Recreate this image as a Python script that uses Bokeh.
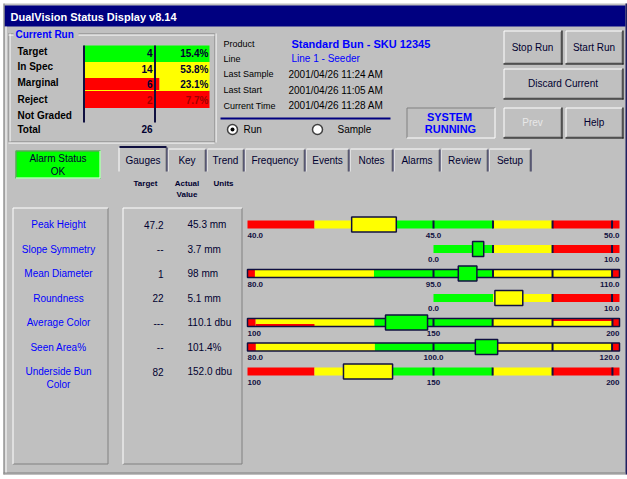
from bokeh.plotting import figure
from bokeh.models import Range1d, ColumnDataSource
from bokeh.core.properties import value
from bokeh.embed import file_html
from bokeh.resources import INLINE

# ---------------- data ----------------
window_title = "DualVision Status Display v8.14"
run_title = "Current Run"
run_categories = ["Target", "In Spec", "Marginal", "Reject", "Not Graded"]
run_counts = [4, 14, 6, 2, None]
total_label = "Total"

info_labels = ["Product", "Line", "Last Sample", "Last Start", "Current Time"]
info_values = ["Standard Bun - SKU 12345", "Line 1 - Seeder",
               "2001/04/26 11:24 AM", "2001/04/26 11:05 AM", "2001/04/26 11:28 AM"]
mode_options = ["Run", "Sample"]
system_state = ["SYSTEM", "RUNNING"]
button_labels = ["Stop Run", "Start Run", "Discard Current", "Prev", "Help"]
alarm_state = ["Alarm Status", "OK"]
tab_labels = ["Gauges", "Key", "Trend", "Frequency", "Events", "Notes", "Alarms", "Review", "Setup"]
column_headers = ["Target", "Actual\nValue", "Units"]

gauge_names = ["Peak Height", "Slope Symmetry", "Mean Diameter", "Roundness",
               "Average Color", "Seen Area%", "Underside Bun\nColor"]
gauge_targets = ["47.2", "--", "1", "22", "---", "--", "82"]
gauge_values = ["45.3 mm", "3.7 mm", "98 mm", "5.1 mm", "110.1 dbu", "101.4%", "152.0 dbu"]
gauge_lo = [40, -10, 80, -10, 100, 80, 100]
gauge_hi = [50, 10, 110, 10, 200, 120, 200]
gauge_scale_labels = [("40.0", "45.0", "50.0"), (None, "0.0", "10.0"), ("80.0", "95.0", "110.0"),
                      (None, "0.0", "10.0"), ("100", "150", "200"), ("80.0", "100.0", "120.0"),
                      ("100", "150", "200")]
gauge_edges = [[40, 41.8, 43.4, 46.6, 48.2, 50],
               [0, 3.2, 6.4, 10],
               [80, 80.6, 90.2, 99.8, 109.4, 110],
               [0, 3.2, 6.4, 10],
               [100, 102.2, 134.1, 165.9, 198.1, 200],
               [80, 80.9, 93.7, 106.4, 119.2, 120],
               [100, 118, 134, 165.9, 182, 200]]
gauge_zone_status = [["reject", "marginal", "good", "marginal", "reject"],
                     ["good", "marginal", "reject"],
                     ["reject", "marginal", "good", "marginal", "reject"],
                     ["good", "marginal", "reject"],
                     ["reject", "marginal", "good", "marginal", "reject"],
                     ["reject", "marginal", "good", "marginal", "reject"],
                     ["reject", "marginal", "good", "marginal", "reject"]]
gauge_ticks = [[45, 46.6, 48.2, 49.8], [3.2, 6.4, 9.6], [95, 99.8, 104.6, 109.4], [6.4, 9.6],
               [150, 165.9, 182, 198.1], [100, 106.4, 112.8, 119.2], [150, 165.9, 182, 198.1]]
gauge_box_lo = [42.8, 2.1, 97.0, 3.3, 137.1, 104.5, 125.8]
gauge_box_hi = [44.0, 2.7, 98.5, 4.8, 148.4, 106.9, 139.0]
gauge_box_status = ["marginal", "good", "good", "marginal", "good", "good", "marginal"]
gauge_outlined = [False, False, True, False, True, True, False]
# thin sub-zone strips (gauge index, start, end, side)
strip_gauge = [4, 4]
strip_start = [102.2, 182.0]
strip_end = [118.0, 198.1]
strip_side = ["bottom", "top"]

# ---------------- style ----------------
FONT = "Liberation Sans"
BG = "#C0C0C0"
NAVY = "#000080"
INK = "#000030"
BLUE = "#0000FF"
WHITE = "#FFFFFF"
SHADOW = "#808080"
EDGE = "#101040"
STATUS = {"good": "#00FF00", "marginal": "#FFFF00", "reject": "#FF0000"}

W, H = 627, 479
p = figure(width=W, height=H, x_range=Range1d(0, W), y_range=Range1d(H, 0),
           output_backend="svg", toolbar_location=None, min_border=0,
           x_axis_location=None, y_axis_location=None)
p.grid.visible = False
p.outline_line_color = None
p.background_fill_color = WHITE
p.border_fill_color = WHITE
G0, G1 = 247.0, 619.0
p.extra_x_ranges = {"gauge": Range1d(-G0 / (G1 - G0), (W - G0) / (G1 - G0))}

segs = {}
def line(x0, y0, x1, y1, color, width=1):
    s = segs.setdefault((color, width), {"x0": [], "y0": [], "x1": [], "y1": []})
    s["x0"].append(x0); s["y0"].append(y0); s["x1"].append(x1); s["y1"].append(y1)

def bevel(x0, y0, x1, y1, raised=True, outer=False):
    lt, dk = (WHITE, SHADOW) if raised else (SHADOW, WHITE)
    h = 0.5
    line(x0 + h, y0 + h, x1 - h, y0 + h, lt)
    line(x0 + h, y0 + h, x0 + h, y1 - h, lt)
    line(x0 + h, y1 - h, x1 - h, y1 - h, dk)
    line(x1 - h, y0 + h, x1 - h, y1 - h, dk)
    if outer:
        line(x0, y1 + 0.5, x1 + 1, y1 + 0.5, "#000000")
        line(x1 + 0.5, y0, x1 + 0.5, y1 + 1, "#000000")

def etched_h(x0, x1, y):
    line(x0, y + 0.5, x1, y + 0.5, SHADOW)
    line(x0, y + 1.5, x1, y + 1.5, WHITE)

def etched_v(x, y0, y1):
    line(x + 0.5, y0, x + 0.5, y1, SHADOW)
    line(x + 1.5, y0, x + 1.5, y1, WHITE)

texts = {}
def label(x, y, s, size=10, color=INK, align="left", bold=False, rng="default"):
    d = texts.setdefault((size, color, align, bold, rng), {"x": [], "y": [], "text": []})
    d["x"].append(x); d["y"].append(y); d["text"].append(s)

def box(x0, y0, x1, y1, color):
    p.quad(left=x0, right=x1, top=y0, bottom=y1, fill_color=color, line_color=None)

# ---- window ----
box(3, 3, 627, 474, BG)
box(4, 5, 625, 26, NAVY)
box(625, 3, 627, 474, "#202060")
line(3.5, 3, 3.5, 474, SHADOW)
line(5.5, 26, 5.5, 472, WHITE)
line(3, 472.5, 625, 472.5, SHADOW)
line(3, 473.5, 625, 473.5, "#A0A0A0")
label(10, 16, window_title, size=11, color=WHITE, bold=True)

# ---- current run group ----
gx0, gx1, gy0, gy1 = 8, 214, 33, 141
etched_h(gx0, 13, gy0); etched_h(78, gx1, gy0)
etched_h(gx0, gx1, gy1)
etched_v(gx0, gy0, gy1); etched_v(gx1, gy0, gy1 + 1)
label(15, gy0 + 0.5, run_title, size=10, color=BLUE, bold=True)

cell_colors = ["#00FF00", "#FFFF00", "#FF0000", "#FF0000"]
row_tops = [45, 61.5, 77.5, 90.5]
row_bots = [61.5, 77.5, 89.5, 107.5]
tx0, tmid, tx1 = 83, 154, 209
for i in range(4):
    if run_categories[i] == "Marginal":
        box(tx0, row_tops[i], 159, row_bots[i], cell_colors[i])
        box(159, row_tops[i], tx1, row_bots[i] + 1, "#FFFF00")
        box(tx0, row_bots[i], 159, row_bots[i] + 1.5, "#FFFF00")
    else:
        box(tx0, row_tops[i], tx1, row_bots[i], cell_colors[i])
line(tx0 + 0.5, 45, tx0 + 0.5, 122, EDGE, 2)
line(tmid + 0.5, 45, tmid + 0.5, 122, EDGE, 2)

total = sum(c for c in run_counts if c is not None)
label_y = [50.5, 66, 81.5, 98.5, 114.5]
count_y = [52.5, 68.5, 83.5, 99.5]
for i, cat in enumerate(run_categories):
    label(17, label_y[i], cat, size=10, color="#000000", bold=True)
    c = run_counts[i]
    if c is not None:
        col = "#A00000" if cat == "Reject" else INK
        label(152, count_y[i], str(c), size=10, color=col, align="right", bold=True)
        label(208, count_y[i], f"{c / total * 100:.1f}%", size=10, color=col, align="right", bold=True)
label(17, 128.5, total_label, size=10, color="#000000", bold=True)
label(152, 128.5, str(total), size=10, color=INK, align="right", bold=True)

# ---- product info ----
info_y = [43, 58, 73.5, 89.5, 105]
for i in range(5):
    label(223, info_y[i], info_labels[i], size=9, color="#000000")
    if i < 2:
        label(291, info_y[i], info_values[i], size=11 if i == 0 else 10, color=BLUE, bold=(i == 0))
    else:
        label(288, info_y[i], info_values[i], size=10, color="#000000")
line(220, 118, 390, 118, NAVY, 2)
radio_x = [232, 317]
p.scatter(x=radio_x, y=[129, 129], size=10, marker="circle", fill_color=WHITE, line_color="#404040", line_width=1.5)
p.scatter(x=radio_x[:1], y=[129], size=4, marker="circle", fill_color="#000000", line_color=None)
label(243, 129, mode_options[0], size=10, color="#000000")
label(337, 129, mode_options[1], size=10, color="#000000")

bevel(406, 107, 495, 138, raised=False)
label(449, 116, system_state[0], size=11, color=BLUE, align="center", bold=True)
label(450, 128.5, system_state[1], size=11, color=BLUE, align="center", bold=True)

# ---- buttons ----
btn_rects = [(503, 30, 561, 63), (565, 30, 622, 63), (503, 68, 622, 98),
             (503, 107, 561, 137), (565, 107, 622, 137)]
for (x0, y0, x1, y1), name in zip(btn_rects, button_labels):
    bevel(x0, y0, x1, y1, raised=True, outer=True)
    col = "#E8E8E8" if name == "Prev" else INK
    label((x0 + x1) / 2, (y0 + y1) / 2, name, size=10, color=col, align="center")

# ---- alarm status ----
box(15, 150, 100, 178, "#00FF00")
bevel(15, 150, 100, 178, raised=False)
label(57.5, 158, alarm_state[0], size=10, color=INK, align="center")
label(57.5, 170.5, alarm_state[1], size=10, color=INK, align="center")

# ---- tabs ----
tab_edges = [118, 167, 206, 244, 305, 349, 393, 440, 488, 531]
for i, name in enumerate(tab_labels):
    x0, x1 = tab_edges[i], tab_edges[i + 1]
    top = 146 if i == 0 else 148
    line(x0 + 1, top + 0.5, x1 - 1, top + 0.5, EDGE if i == 0 else WHITE, 2 if i == 0 else 1)
    line(x0 + 0.5, top + 1, x0 + 0.5, 171, WHITE)
    line(x1 - 1.5, top + 1, x1 - 1.5, 171, SHADOW)
    line(x1 - 0.5, top + 1, x1 - 0.5, 171, EDGE)
    label((x0 + x1) / 2, 160, name, size=10, color=INK, align="center")

# ---- column headers ----
hdr_x = [145, 186.5, 223]
for hx, h in zip(hdr_x, column_headers):
    for k, part in enumerate(h.split("\n")):
        label(hx, 183 + 11 * k, part, size=8, color=INK, align="center", bold=True)

# ---- side panels ----
bevel(12, 207, 108, 464, raised=True)
bevel(122, 207, 242, 464, raised=True)

row_y = [224 + 24.5 * i for i in range(len(gauge_names))]
for i, name in enumerate(gauge_names):
    for k, part in enumerate(name.split("\n")):
        label(58, row_y[i] + 13 * k, part, size=10, color=BLUE, align="center")
    label(163, row_y[i], gauge_targets[i], size=10, color=INK, align="right")
    label(187, row_y[i], gauge_values[i], size=10, color=INK, align="left")

# flush UI lines
for (color, width), s in segs.items():
    p.segment(x0="x0", y0="y0", x1="x1", y1="y1", source=ColumnDataSource(s),
              line_color=color, line_width=width)

# ---- gauges ----
def frac(i, v):
    return (v - gauge_lo[i]) / (gauge_hi[i] - gauge_lo[i])

HB, HX = 4.0, 7.5
for i in range(len(gauge_names)):
    yc = row_y[i]
    e = gauge_edges[i]
    lefts = [frac(i, v) for v in e[:-1]]
    rights = [frac(i, v) for v in e[1:]]
    cols = [STATUS[s] for s in gauge_zone_status[i]]
    p.quad(left=lefts, right=rights, top=[yc - HB] * len(lefts), bottom=[yc + HB] * len(lefts),
           fill_color=cols, line_color=None, x_range_name="gauge")
    for j, g in enumerate(strip_gauge):
        if g == i:
            y0, y1 = (yc + HB - 2.5, yc + HB) if strip_side[j] == "bottom" else (yc - HB, yc - HB + 2.5)
            p.quad(left=[frac(i, strip_start[j])], right=[frac(i, strip_end[j])], top=[y0], bottom=[y1],
                   fill_color=STATUS["reject"], line_color=None, x_range_name="gauge")
    tf = [frac(i, t) for t in gauge_ticks[i]]
    p.segment(x0=tf, x1=tf, y0=[yc - HB] * len(tf), y1=[yc + HB] * len(tf),
              line_color=EDGE, line_width=2, x_range_name="gauge")
    if gauge_outlined[i]:
        p.quad(left=[lefts[0]], right=[rights[-1]], top=[yc - HB], bottom=[yc + HB],
               fill_color=None, line_color=EDGE, line_width=1.5, x_range_name="gauge")
    p.quad(left=[frac(i, gauge_box_lo[i])], right=[frac(i, gauge_box_hi[i])],
           top=[yc - HX], bottom=[yc + HX], fill_color=STATUS[gauge_box_status[i]],
           line_color=EDGE, line_width=1.5, x_range_name="gauge")
    lo_l, mid_l, hi_l = gauge_scale_labels[i]
    if lo_l is not None:
        label(0.0, yc + 10.5, lo_l, size=8, color=EDGE, align="left", bold=True, rng="gauge")
    label(0.5, yc + 10.5, mid_l, size=8, color=EDGE, align="center", bold=True, rng="gauge")
    label(1.0, yc + 10.5, hi_l, size=8, color=EDGE, align="right", bold=True, rng="gauge")

# ---- texts ----
for (size, color, align, bold, rng), d in texts.items():
    p.text(x="x", y="y", text="text", source=ColumnDataSource(d), x_range_name=rng,
           text_font=value(FONT), text_font_size=f"{size}px", text_color=color,
           text_align=align, text_baseline="middle",
           text_font_style="bold" if bold else "normal")

open("out.html", "w").write(file_html(p, INLINE))
